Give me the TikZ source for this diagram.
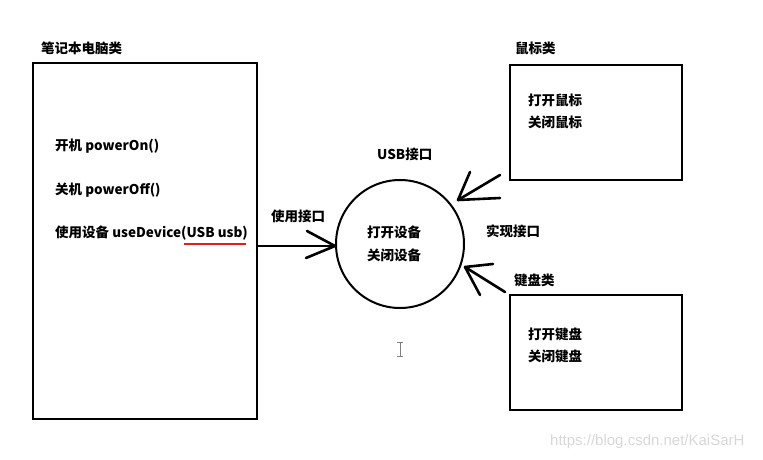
\documentclass[tikz,border=0pt]{standalone}
\usepackage{fontspec}
\setmainfont{Noto Sans CJK SC}
\newfontfamily\wmfont{Liberation Sans}
\begin{document}
\begin{tikzpicture}[x=1pt,y=-1pt,
  box/.style={draw=black, line width=2pt, inner sep=0pt, anchor=north west},
  lbl/.style={anchor=west, inner sep=0pt, font=\fontsize{13.5}{15}\selectfont\bfseries},
  arr/.style={line width=2.6pt, line cap=round},
  sline/.style={line width=2pt}]
\useasboundingbox (0,0) rectangle (763,460);
% boxes
\node[box, minimum width=224pt, minimum height=356pt] (laptop) at (32,62) {};
\node[box, minimum width=172pt, minimum height=115pt] (mouse) at (509,64) {};
\node[box, minimum width=172pt, minimum height=115pt] (kbd) at (509,294) {};
\node[draw=black, line width=2pt, circle, minimum size=128pt, inner sep=0pt] (usb) at (400,244) {};
% labels
\node[lbl] (tlaptop) at (41,48) {笔记本电脑类};
\node[lbl] (t1) at (55,146) {开机 powerOn()};
\node[lbl] (t2) at (55,190) {关机 powerOff()};
\node[lbl] (t3) at (55,233) {使用设备 useDevice(USB usb)};
\node[lbl] (tusb) at (377,154) {USB接口};
\node[lbl] (tuse) at (271,216) {使用接口};
\node[lbl] (c1) at (367,232) {打开设备};
\node[lbl] (c2) at (367,255) {关闭设备};
\node[lbl] (timpl) at (486,231) {实现接口};
\node[lbl] (tmouse) at (515,48) {鼠标类};
\node[lbl] (m1) at (528,100) {打开鼠标};
\node[lbl] (m2) at (528,122) {关闭鼠标};
\node[lbl] (tkbd) at (514,280) {键盘类};
\node[lbl] (k1) at (528,334) {打开键盘};
\node[lbl] (k2) at (528,356) {关闭键盘};
% red underline
\coordinate (ul1) at (184,244);
\coordinate (ul2) at (246,244);
\draw[draw={rgb,255:red,225;green,30;blue,30}, line width=2pt] (ul1) -- (ul2);
% laptop -> usb
\draw[sline] (laptop.east |- 0,246) -- (usb.west |- 0,246);
\coordinate (ltip) at (335,246);
\draw[arr] (ltip) -- ++(-28,-15);
\draw[arr] (ltip) -- ++(-29,12);
% mouse -> usb
\coordinate (mtip) at (458,200);
\coordinate (mtail) at (500,175);
\draw[arr] (mtail) -- (mtip);
\draw[arr] (mtip) -- ++(12,-28);
\draw[arr] (mtip) -- ++(42,-2);
% keyboard -> usb
\coordinate (ktip) at (465,267);
\coordinate (ktail) at (505,292);
\draw[arr] (ktail) -- (ktip);
\draw[arr] (ktip) -- ++(28,-3);
\draw[arr] (ktip) -- ++(15,28);
% text cursor
\draw[gray, line width=1pt] (400,342) -- (400,356) (397,342) -- (403,342) (397,356) -- (403,356);
% watermark
\node[anchor=west, inner sep=0pt, text={rgb,255:red,215;green,215;blue,215}, font=\wmfont\fontsize{15}{17}\selectfont] (wm) at (550,442) {https://blog.csdn.net/KaiSarH};
\end{tikzpicture}
\end{document}
